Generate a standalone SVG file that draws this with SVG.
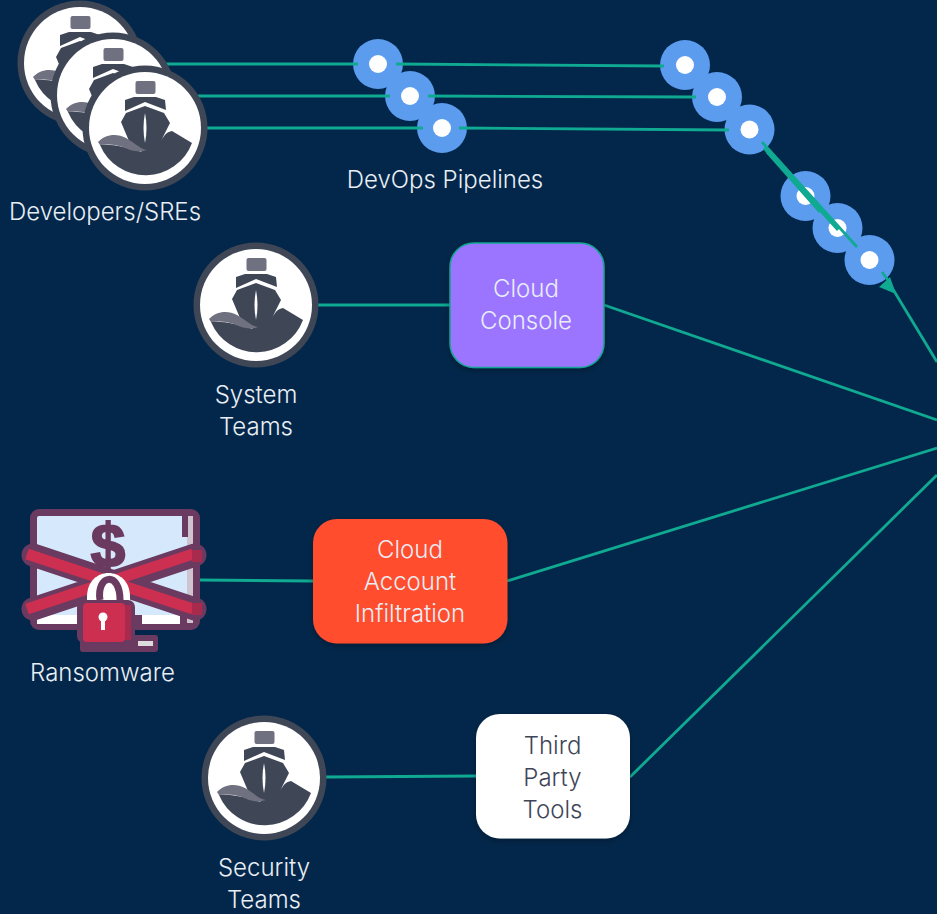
<svg xmlns="http://www.w3.org/2000/svg" width="937" height="914" viewBox="0 0 937 914">
<style>
.t{font-family:"Inter","Liberation Sans",sans-serif;font-weight:300;font-size:24px;fill:#e9eef5;text-anchor:middle}
.d{fill:#3f4757}
.c{fill:none;stroke:#10a991;stroke-width:2.800}
.dot{fill:#5b9cef}
.hole{fill:#fff}
.m{fill:#6b3a60}
.r{fill:#cc2f50}
</style>
<defs>
<filter id="sh" x="-20%" y="-20%" width="140%" height="140%"><feDropShadow dx="0" dy="2" stdDeviation="3" flood-color="#000" flood-opacity=".3"/></filter>
<g id="ship">
<circle r="62.500" class="d"/>
<circle r="56" fill="#fff"/>
<rect x="-9.500" y="-47" width="20" height="13" rx="2" fill="#6f7180"/>
<path class="d" d="M-20-28-11-31H11L20-28 21-18 0-26-20-17Z"/>
<path class="d" d="M0-22 19-15 25-5 16 13C20 6 22 4 27 3L47 15A49.500 49.500 0 0 1-45 17C-30 16-18 20-3 24L-16 13-24-6-19-15Z"/>
<path fill="#6f7180" d="M-47 14C-40 6-28 5-19 10-10 15-5 21 2 22-6 25-14 23-22 19-30 16-38 16-45 17Z"/>
<path fill="#fff" d="M0-15C2-5 2 5 0 15-2 5-2-5 0-15Z"/>
</g>
</defs>
<rect width="937" height="914" fill="#03274a"/>
<g id="pipeline-nodes">
<g id="p1"><circle cx="378" cy="64" r="25" class="dot"/><circle cx="378" cy="64" r="9" class="hole"/></g>
<g id="p2"><circle cx="410" cy="96" r="25" class="dot"/><circle cx="410" cy="96" r="9" class="hole"/></g>
<g id="p3"><circle cx="442" cy="128" r="25" class="dot"/><circle cx="442" cy="128" r="9" class="hole"/></g>
<g id="p4"><circle cx="685" cy="65" r="25" class="dot"/><circle cx="685" cy="65" r="9" class="hole"/></g>
<g id="p5"><circle cx="717" cy="97" r="25" class="dot"/><circle cx="717" cy="97" r="9" class="hole"/></g>
<g id="p6"><circle cx="749.500" cy="129.500" r="25" class="dot"/><circle cx="749.500" cy="129.500" r="9" class="hole"/></g>
<g id="p7"><circle cx="805.500" cy="196" r="25" class="dot"/><circle cx="805.500" cy="196" r="9" class="hole"/></g>
<g id="p8"><circle cx="837.500" cy="228" r="25" class="dot"/><circle cx="837.500" cy="228" r="9" class="hole"/></g>
<g id="p9"><circle cx="869.500" cy="260" r="25" class="dot"/><circle cx="869.500" cy="260" r="9" class="hole"/></g>
</g>
<g id="connectors">
<path class="c" d="M165 64H358M396 64 664 66M198 96H390M428 96 696 97M205 128H423M459 128 729 130"/>
<path class="c" d="M762 142 857 247M764 148 838 230M767 152 820 212"/>
<path class="c" d="M882 272 890 283M891 286 937 362"/>
<path fill="#10a991" d="M890 277 879 287 896 294Z"/>
<path class="c" d="M318 305H450M604 305 937 420M200 580 313 581M507 581 937 448M326 777 476 776M630 777 937 475"/>
</g>
<g id="developers">
<use href="#ship" x="80" y="63"/>
<use href="#ship" x="113" y="95"/>
<use href="#ship" x="145" y="128"/>
<text class="t" x="105" y="220">Developers/SREs</text>
</g>
<text class="t" x="445" y="188">DevOps Pipelines</text>
<g id="system-teams">
<use href="#ship" x="256" y="305"/>
<text class="t" x="256" y="403">System</text>
<text class="t" x="256" y="435">Teams</text>
</g>
<g id="cloud-console">
<rect x="450" y="243" width="154" height="124.500" rx="24" fill="#9b74ff" stroke="#12a594" stroke-width="1.500" filter="url(#sh)"/>
<text class="t" x="526" y="297">Cloud</text>
<text class="t" x="526" y="329">Console</text>
</g>
<g id="ransomware">
<rect x="30" y="509" width="170" height="121" rx="9" class="m"/>
<rect x="37" y="516" width="150" height="99" rx="2" fill="#d6e8fb"/>
<path d="M37 615H82V624H37ZM142 615H180V624H142Z" fill="#fff"/>
<rect x="82" y="615" width="60" height="9" class="m"/>
<rect x="180" y="615" width="7" height="9" class="m"/>
<rect x="187" y="516" width="6" height="107" fill="#cfc3cf"/>
<rect x="182" y="516" width="6" height="21" class="m"/>
<rect x="80" y="635" width="78" height="17" rx="3" class="m"/>
<rect x="138" y="641" width="15" height="5" fill="#ddd"/>
<path d="M33 555 195 609M33 609 195 555" fill="none" stroke="#6b3a60" stroke-width="23" stroke-linecap="round"/>
<path d="M27 554 193 609M27 609 193 554" fill="none" stroke="#cc2f50" stroke-width="11"/>
<path d="M192 550H202V562H192ZM192 603H202V615H192Z" fill="#a82a4d"/>
<path d="M87 597C87 565 130 565 130 597V605H87Z" fill="#fff"/>
<path d="M100 600C96 575 120 570 120 600" fill="none" stroke="#6b3a60" stroke-width="7"/>
<text x="108" y="566" font-family="Liberation Sans,sans-serif" font-weight="700" font-size="62" fill="#6b3a60" stroke="#6b3a60" stroke-width="2" text-anchor="middle">$</text>
<rect x="77" y="600" width="58" height="43" rx="7" class="m"/>
<rect x="83" y="603" width="42" height="39" rx="4" class="r"/>
<rect x="125" y="605" width="6" height="35" fill="#a82a4d"/>
<circle cx="103" cy="617" r="4.500" fill="#fff"/>
<rect x="101" y="618" width="4" height="12" fill="#fff"/>
<text class="t" x="102.500" y="681">Ransomware</text>
</g>
<g id="cloud-account">
<rect x="313" y="519" width="194.500" height="124.500" rx="24" fill="#ff4d2e" filter="url(#sh)"/>
<text class="t" x="410" y="558">Cloud</text>
<text class="t" x="410" y="590">Account</text>
<text class="t" x="410" y="622">Infiltration</text>
</g>
<g id="security-teams">
<use href="#ship" x="264" y="778"/>
<text class="t" x="264" y="876">Security</text>
<text class="t" x="264" y="908">Teams</text>
</g>
<g id="third-party">
<rect x="476" y="714" width="154" height="124.500" rx="24" fill="#fff" filter="url(#sh)"/>
<text class="t" style="fill:#3f4558" x="552.500" y="754">Third</text>
<text class="t" style="fill:#3f4558" x="552.500" y="786">Party</text>
<text class="t" style="fill:#3f4558" x="552.500" y="818">Tools</text>
</g>
</svg>
